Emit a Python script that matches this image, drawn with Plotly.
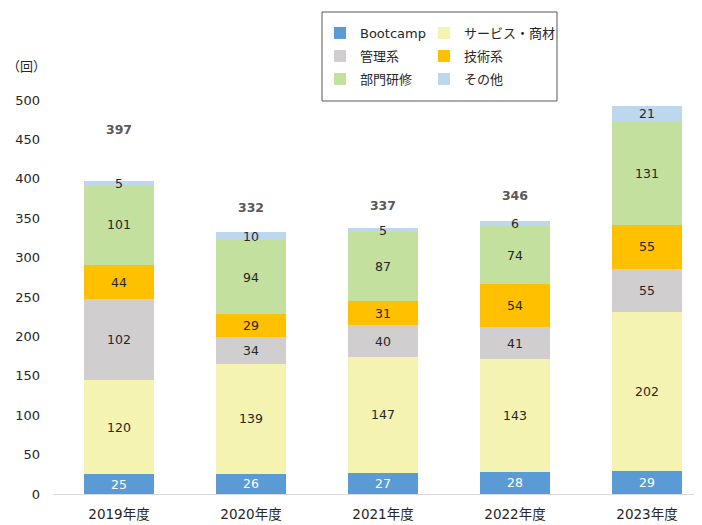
import plotly.graph_objects as go

years = ["2019年度", "2020年度", "2021年度", "2022年度", "2023年度"]

bootcamp = [25, 26, 27, 28, 29]
service = [120, 139, 147, 143, 202]
kanri = [102, 34, 40, 41, 55]
gijutsu = [44, 29, 31, 54, 55]
bumon = [101, 94, 87, 74, 131]
sonota = [5, 10, 5, 6, 21]
totals = [397, 332, 337, 346, 493]

series = [
    ("Bootcamp", bootcamp, "#5B9BD5", "white"),
    ("サービス・商材", service, "#F4F3B2", "#262626"),
    ("管理系", kanri, "#D0CECE", "#262626"),
    ("技術系", gijutsu, "#FFC000", "#262626"),
    ("部門研修", bumon, "#C4E09E", "#262626"),
    ("その他", sonota, "#BDD7EE", "#262626"),
]

# how far above the bar each total label sits (y units)
label_offsets = [64, 30, 27, 31, 21]

FONT = "DejaVu Sans, Noto Sans CJK JP"

# the page body adds an 8px margin, so the figure is drawn 8px smaller
W, H = 694, 517
OFF = 8

fig = go.Figure()
for i, (name, vals, color, tcolor) in enumerate(series):
    fig.add_trace(go.Bar(
        x=years, y=vals, name=name,
        legend="legend" if i == 0 else f"legend{i + 1}",
        marker=dict(color=color, line=dict(width=0)),
        text=vals, textposition="inside", insidetextanchor="middle",
        textangle=0, constraintext="none",
        textfont=dict(color=tcolor, size=12.5, family=FONT),
        width=0.525,
    ))

fig.add_trace(go.Scatter(
    x=years, y=[t + o for t, o in zip(totals, label_offsets)],
    text=[f"<b>{t}</b>" for t in totals], mode="text",
    textfont=dict(color="#595959", size=12.5, family=FONT),
    showlegend=False, cliponaxis=False,
))

# one legend per entry, laid out as a 2-column grid inside a box
legend_common = dict(
    xref="container", yref="container",
    xanchor="left", yanchor="middle",
    bgcolor="rgba(0,0,0,0)", borderwidth=0,
    font=dict(size=13, family=FONT, color="#262626"),
    itemclick=False,
)
col_x = [320, 424]
row_y = [33, 56, 79]
legends = {}
for i in range(6):
    key = "legend" if i == 0 else f"legend{i + 1}"
    legends[key] = dict(
        legend_common,
        x=(col_x[i % 2] - OFF) / W,
        y=1 - (row_y[i // 2] - OFF) / H,
    )

ml, mt, mb = 53 - OFF, 100 - OFF, 31
pw, ph = W - ml, H - mt - mb
fig.update_layout(
    width=W, height=H,
    margin=dict(l=ml, r=0, t=mt, b=mb, autoexpand=False),
    barmode="stack",
    plot_bgcolor="white", paper_bgcolor="white",
    font=dict(family=FONT, size=12.5, color="#262626"),
    xaxis=dict(
        range=[-0.5, 4.417], showline=True, linecolor="#D9D9D9",
        linewidth=1, ticks="", showgrid=False, ticklabelstandoff=8,
        tickfont=dict(size=13.5, color="#262626"),
    ),
    yaxis=dict(
        range=[0, 500], dtick=50, showgrid=False, zeroline=False,
        showline=False, ticks="", ticklabelstandoff=12,
        tickfont=dict(size=13, color="#262626"),
    ),
    shapes=[dict(
        type="rect", xref="paper", yref="paper",
        x0=(322 - 53) / pw, x1=(557 - 53) / pw,
        y0=(494 - 101) / ph, y1=(494 - 12) / ph,
        line=dict(color="#595959", width=1), fillcolor="rgba(0,0,0,0)",
    )],
    annotations=[dict(
        text="（回）", xref="paper", yref="paper",
        x=(26 - 53) / pw, y=(494 - 67) / ph,
        xanchor="center", yanchor="middle",
        showarrow=False, font=dict(size=13, color="#262626"),
    )],
    **legends,
)

fig.write_html("out.html")
